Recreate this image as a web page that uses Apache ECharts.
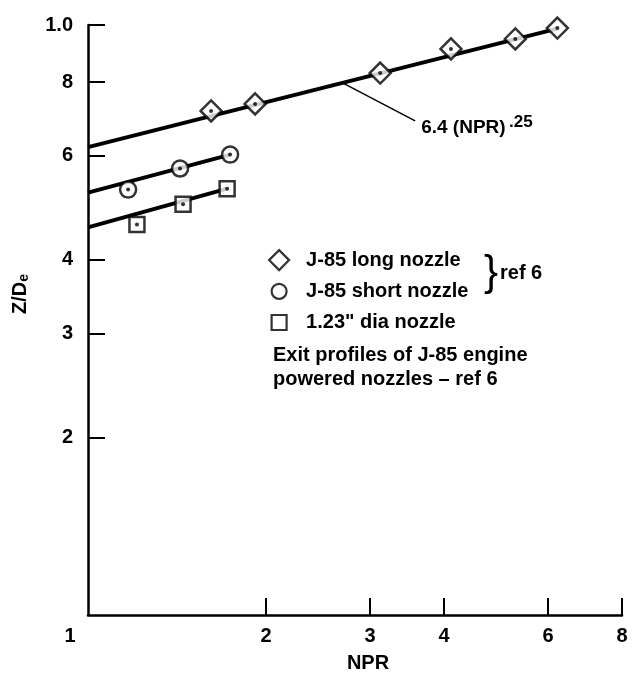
<!DOCTYPE html>
<html><head><meta charset="utf-8">
<script src="https://cdn.jsdelivr.net/npm/echarts@6/dist/echarts.min.js"></script>
<style>html,body{margin:0;padding:0;background:#fff}#c{width:635px;height:688px}</style>
</head><body><div id="c"></div>
<script>
// ---- data (NPR, Z/De) ----
const longNPR  = [1.615, 1.917, 3.12, 4.11, 5.28, 6.22];
const longZ    = [7.15, 7.35, 8.29, 9.11, 9.47, 9.88];
const shortNPR = [1.169, 1.431, 1.739];
const shortZ   = [5.26, 5.71, 6.03];
const diaNPR   = [1.21, 1.448, 1.719];
const diaZ     = [4.59, 4.97, 5.28];
// fitted lines (end points)
const fitLongNPR  = [1, 6.22];  const fitLongZ  = [6.21, 9.86];
const fitShortNPR = [1, 1.74];  const fitShortZ = [5.20, 6.03];
const fitDiaNPR   = [1, 1.72];  const fitDiaZ   = [4.54, 5.28];
// leader line of the annotation
const leaderNPR = [2.70, 3.575]; const leaderZ = [7.97, 6.88];
// axis ticks / labels
const xTickValues  = [2, 3, 4, 6, 8];
const xLabelValues = [1, 2, 3, 4, 6, 8];
const yTickValues  = [2, 3, 4, 6, 8, 10];
const yLabelValues = [2, 3, 4, 6, 8, 10];
const seriesNames = ['J-85 long nozzle', 'J-85 short nozzle', '1.23" dia nozzle'];

const FF = '"Liberation Sans", Arial, Helvetica, sans-serif';
const zip = (a, b) => a.map((v, i) => [v, b[i]]);
const txt = {color: '#000', fontFamily: FF, fontWeight: 'bold', fontSize: 20};
const gtxt = (o) => Object.assign({fill: '#000', fontFamily: FF, fontWeight: 'bold', fontSize: 20}, o);
const hollow = {color: '#fff', borderColor: '#000', borderWidth: 2.5};
const iconStyle = {color: '#fff', borderColor: '#000', borderWidth: 2.2};

function fitLine(x, y) {
  return {type: 'line', data: zip(x, y), showSymbol: false, symbol: 'none', silent: true,
    lineStyle: {color: '#000', width: 4}, z: 2};
}
function marks(name, symbol, size, x, y) {
  return {type: 'scatter', name, data: zip(x, y), symbol, symbolSize: size,
    itemStyle: hollow, z: 3, silent: true};
}
function dots(x, y) {
  return {type: 'scatter', data: zip(x, y), symbol: 'circle', symbolSize: 4,
    itemStyle: {color: '#000'}, z: 4, silent: true};
}

const chart = echarts.init(document.getElementById('c'), null, {renderer: 'canvas'});
const longLine = fitLine(fitLongNPR, fitLongZ);
longLine.markLine = {silent: true, symbol: ['none', 'none'], label: {show: false},
  lineStyle: {color: '#000', width: 1.5, type: 'solid'},
  data: [[{coord: [leaderNPR[0], leaderZ[0]]}, {coord: [leaderNPR[1], leaderZ[1]]}]]};

chart.setOption({
  animation: false,
  backgroundColor: '#fff',
  grid: {left: 88, right: 13, top: 25, bottom: 73, outerBoundsMode: 'none', containLabel: false},
  xAxis: {
    type: 'log', logBase: 10, min: 1, max: 8,
    axisLine: {lineStyle: {color: '#000', width: 2.5}},
    axisTick: {show: true, inside: true, length: 17, customValues: xTickValues,
      lineStyle: {color: '#000', width: 2}},
    axisLabel: Object.assign({}, txt, {customValues: xLabelValues, margin: 11,
      formatter: v => (v === 1 ? '{one|1}' : String(v)),
      rich: {one: Object.assign({}, txt, {padding: [0, 36, 0, 0]})}}),
    splitLine: {show: false}, minorTick: {show: false}
  },
  yAxis: {
    type: 'log', logBase: 10, min: 1, max: 10,
    axisLine: {lineStyle: {color: '#000', width: 2.5}},
    axisTick: {show: true, inside: true, length: 17, customValues: yTickValues,
      lineStyle: {color: '#000', width: 2}},
    axisLabel: Object.assign({}, txt, {customValues: yLabelValues, margin: 15,
      formatter: v => (v === 10 ? '1.0' : String(v))}),
    splitLine: {show: false}, minorTick: {show: false}
  },
  legend: {
    orient: 'vertical', left: 268, top: 249, padding: 0, selectedMode: false,
    itemWidth: 20, itemHeight: 20, itemGap: 9,
    textStyle: Object.assign({}, txt, {padding: [0, 0, 0, 12], lineHeight: 20}),
    data: [
      {name: seriesNames[0], icon: 'path://M10,0L20,10L10,20L0,10Z', itemStyle: iconStyle},
      {name: seriesNames[1], icon: 'path://M0,0M20,20M2.5,10A7.5,7.5,0,1,0,17.5,10A7.5,7.5,0,1,0,2.5,10Z', itemStyle: iconStyle},
      {name: seriesNames[2], icon: 'path://M0,0M20,20M2.5,2.5L17.5,2.5L17.5,17.5L2.5,17.5Z', itemStyle: iconStyle}
    ]
  },
  series: [
    longLine, fitLine(fitShortNPR, fitShortZ), fitLine(fitDiaNPR, fitDiaZ),
    marks(seriesNames[0], 'diamond', 21, longNPR, longZ),
    marks(seriesNames[1], 'circle', 16, shortNPR, shortZ),
    marks(seriesNames[2], 'rect', 15, diaNPR, diaZ),
    dots(longNPR, longZ), dots(shortNPR, shortZ), dots(diaNPR, diaZ)
  ]
});

const p = chart.convertToPixel({gridIndex: 0}, [leaderNPR[1], leaderZ[1]]);
chart.setOption({
  graphic: [
    {type: 'text', x: p[0] + 6, y: p[1] + 7, style: {
      text: '{a|6.4 (NPR)} {b|.25}', fill: '#000', verticalAlign: 'middle',
      rich: {a: gtxt({fontSize: 19}), b: gtxt({fontSize: 17, padding: [0, 0, 12, 0]})}}},
    {type: 'text', x: 368, y: 663, style: gtxt({text: 'NPR', align: 'center', verticalAlign: 'middle'})},
    {type: 'text', x: 20, y: 294, rotation: Math.PI / 2, style: {
      text: '{a|Z/D}{b|e}', fill: '#000', align: 'center', verticalAlign: 'middle',
      rich: {a: gtxt({fontSize: 20}), b: gtxt({fontSize: 14, padding: [9, 0, 0, 0]})}}},
    {type: 'text', x: 484, y: 273, style: {text: '}', fill: '#000', fontFamily: FF, fontSize: 42,
      fontWeight: 'normal', verticalAlign: 'middle'}},
    {type: 'text', x: 500, y: 273, style: gtxt({text: 'ref 6', verticalAlign: 'middle'})},
    {type: 'text', x: 273, y: 355, style: gtxt({text: 'Exit profiles of J-85 engine', verticalAlign: 'middle'})},
    {type: 'text', x: 273, y: 379, style: gtxt({text: 'powered nozzles \u2013 ref 6', verticalAlign: 'middle'})}
  ]
});
</script>
</body></html>
